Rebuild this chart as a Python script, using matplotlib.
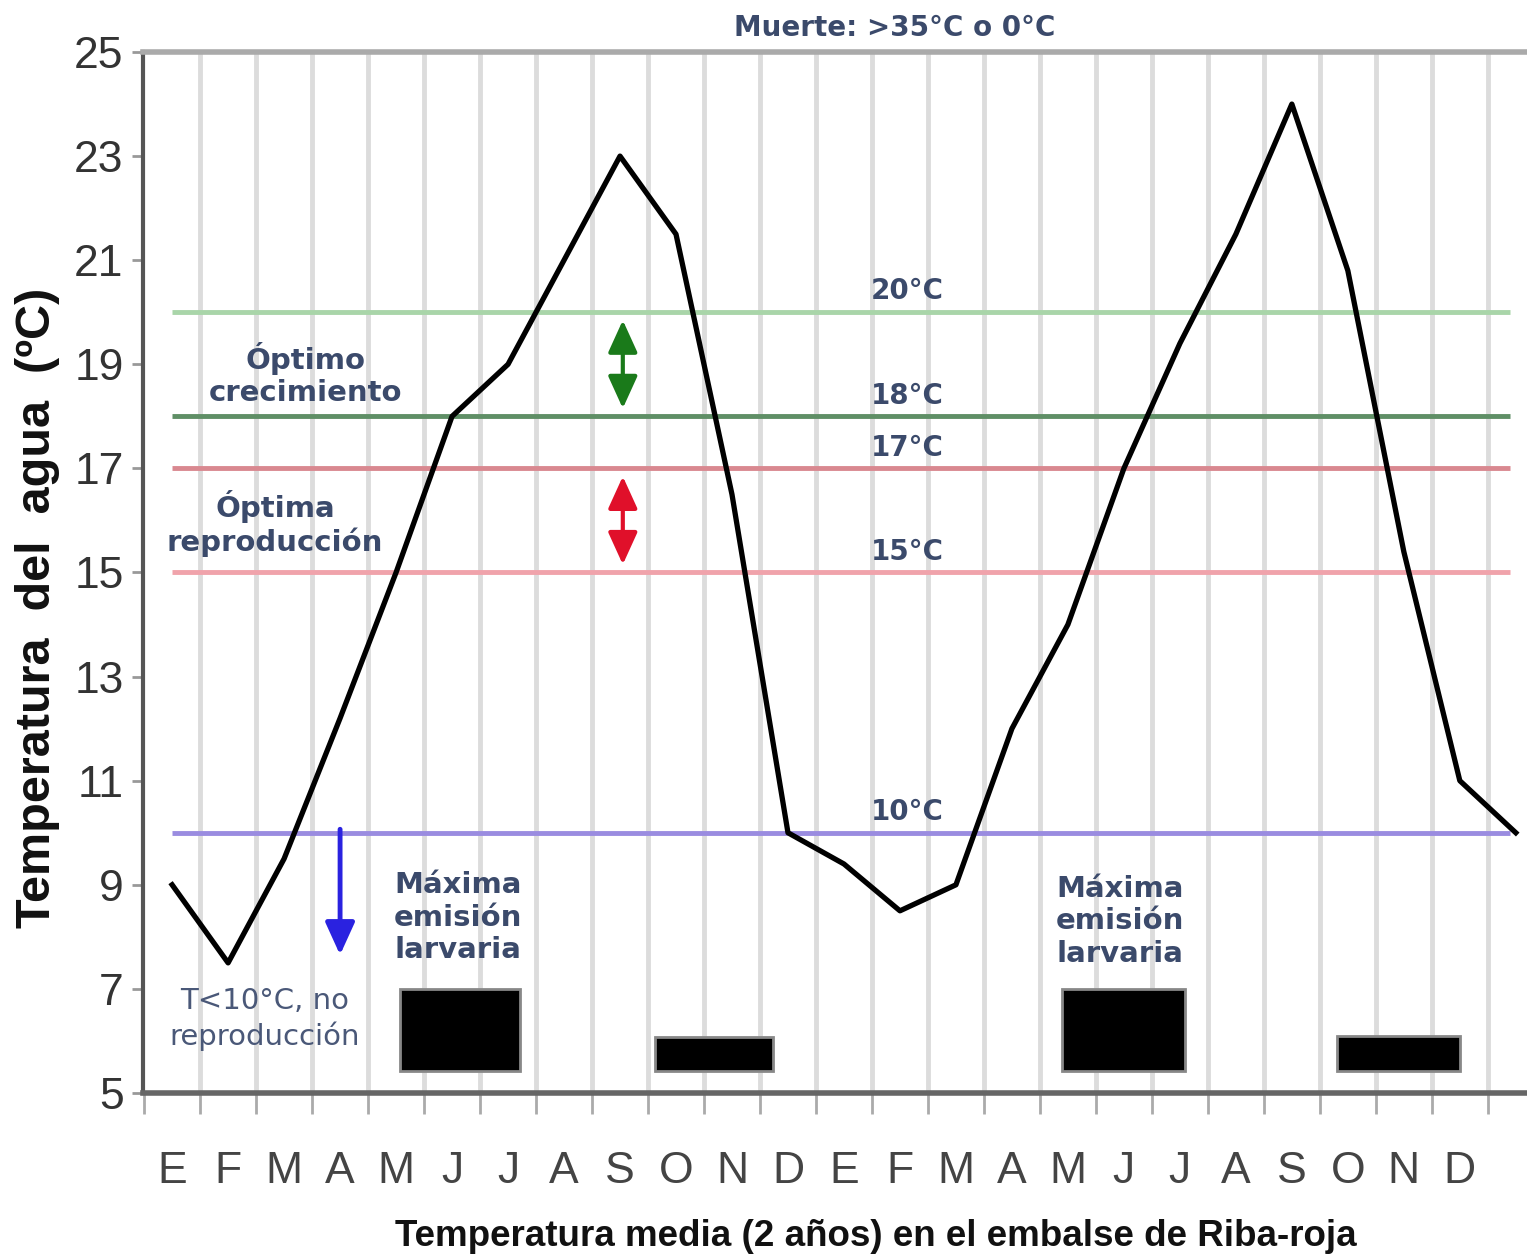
import matplotlib
matplotlib.use("Agg")
import matplotlib.pyplot as plt
import numpy as np

# ---- data
months = ["E", "F", "M", "A", "M", "J", "J", "A", "S", "O", "N", "D"] * 2
temp = [9.0, 7.5, 9.5, 12.2, 15.0, 18.0, 19.0, 21.0, 23.0, 21.5, 16.5, 10.0,
        9.4, 8.5, 9.0, 12.0, 14.0, 17.0, 19.4, 21.5, 24.0, 20.8, 15.4, 11.0, 10.0]

ref_levels = [20, 18, 17, 15, 10]
ref_labels = ["20°C", "18°C", "17°C", "15°C", "10°C"]
ref_colors = ["#a9d5a9", "#5f8f66", "#d98890", "#f0a3ab", "#9a8ce0"]

# larval emission bars (start, end in month index; top temperature)
bar_start = [4.07, 8.63, 15.9, 20.8]
bar_end = [6.21, 10.73, 18.1, 23.0]
bar_top = [7.0, 6.08, 7.0, 6.1]
bar_bottom = 5.42

TXT = "#3b4a6b"
NARROW = ["Liberation Sans Narrow", "Liberation Sans", "DejaVu Sans"]

fig = plt.figure(figsize=(15.27, 12.57), dpi=100)
ax = fig.add_axes([143 / 1527, 1 - 1093 / 1257, (1527 - 143) / 1527, (1093 - 52) / 1257])

x = np.arange(len(temp))

# vertical grey month separators
for xv in np.arange(0.5, 24, 1.0):
    ax.axvline(xv, color="#dcdcdc", lw=3.5, zorder=0)

# reference temperature lines + labels
for lvl, lab, c in zip(ref_levels, ref_labels, ref_colors):
    ax.hlines(lvl, 0, 23.9, color=c, lw=3.5, zorder=1)
    ax.text(13.13, lvl + 0.4, lab, color=TXT, fontsize=20, fontweight="bold",
            ha="center", va="center", zorder=3)

# temperature curve
ax.plot(x, temp, color="black", lw=3.8, zorder=4)

# emission bars
widths = [e - s for s, e in zip(bar_start, bar_end)]
heights = [t - bar_bottom for t in bar_top]
ax.bar(bar_start, heights, width=widths, bottom=bar_bottom, align="edge",
       color="black", edgecolor="#888888", linewidth=2, zorder=3)

# arrows
ax.annotate("", xy=(8.05, 18.1), xytext=(8.05, 19.9),
            arrowprops=dict(arrowstyle="<|-|>,head_length=1.1,head_width=0.5",
                            color="#1a7a1a", lw=3, mutation_scale=18), zorder=5)
ax.annotate("", xy=(8.05, 15.1), xytext=(8.05, 16.9),
            arrowprops=dict(arrowstyle="<|-|>,head_length=1.1,head_width=0.5",
                            color="#e0102a", lw=3, mutation_scale=18), zorder=5)
ax.annotate("", xy=(3.0, 7.6), xytext=(3.0, 10.12),
            arrowprops=dict(arrowstyle="-|>,head_length=1.1,head_width=0.5",
                            color="#2a22e0", lw=3.5, mutation_scale=18), zorder=5)

# annotations
ax.text(2.38, 18.8, "Óptimo\ncrecimiento", color=TXT, fontsize=21, fontweight="bold",
        ha="center", va="center", linespacing=1.2, zorder=3)
ax.text(1.84, 15.94, "Óptima\nreproducción", color=TXT, fontsize=21, fontweight="bold",
        ha="center", va="center", linespacing=1.2, zorder=3)
ax.text(1.66, 6.42, "T<10°C, no\nreproducción", color="#4a5878", fontsize=21,
        ha="center", va="center", linespacing=1.25, zorder=3)
for xm, ym in [(5.1, 8.37), (16.93, 8.3)]:
    ax.text(xm, ym, "Máxima\nemisión\nlarvaria", color=TXT, fontsize=21, fontweight="bold",
            ha="center", va="center", linespacing=1.2, zorder=3)

ax.text(0.543, 1 + 24 / 1041, "Muerte: >35°C o 0°C", transform=ax.transAxes,
        color=TXT, fontsize=20, fontweight="bold", ha="center", va="center")

# axes styling
ax.set_xlim(-0.52, 24.2)
ax.set_ylim(5, 25)
ax.set_yticks(np.arange(5, 26, 2))
ax.set_yticklabels([str(v) for v in range(5, 26, 2)], family=NARROW, fontsize=32, color="#333333")
ax.tick_params(axis="y", length=8, width=2, color="#999999", pad=6)

ax.set_xticks(np.arange(-0.5, 24, 1.0))
ax.set_xticklabels([])
ax.tick_params(axis="x", which="major", length=15, width=2, color="#aaaaaa")
ax.set_xticks(x[:24], minor=True)
ax.set_xticklabels(months, minor=True, family=NARROW, fontsize=32, color="#444444")
ax.tick_params(axis="x", which="minor", length=0, pad=42)

ax.spines["right"].set_visible(False)
ax.spines["left"].set_color("#555555")
ax.spines["left"].set_linewidth(3)
ax.spines["bottom"].set_color("#666666")
ax.spines["bottom"].set_linewidth(4)
ax.spines["top"].set_color("#aaaaaa")
ax.spines["top"].set_linewidth(4)

fig.text(38 / 1527, 1 - 608 / 1257, "Temperatura  del  agua  (ºC)", rotation=90,
         ha="center", va="center", fontsize=35, fontweight="bold",
         family=["Liberation Sans", "DejaVu Sans"], color="#111111")
fig.text(876 / 1527, 1 - 1237 / 1257, "Temperatura media (2 años) en el embalse de Riba-roja",
         ha="center", va="center", fontsize=26.5, fontweight="bold", family=NARROW, color="#111111")

fig.savefig("out.png", dpi=100)
